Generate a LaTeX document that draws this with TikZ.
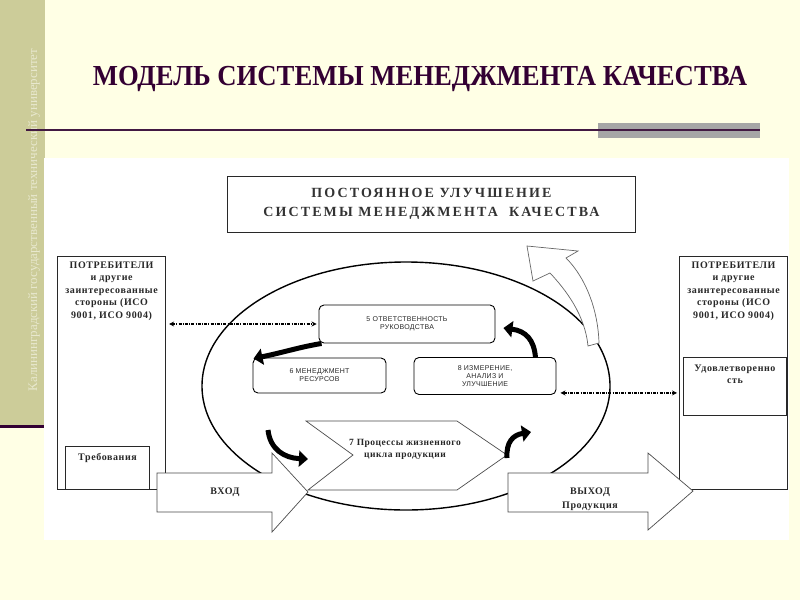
\documentclass[tikz,border=0pt]{standalone}
\usepackage{fontspec}
\setmainfont{Liberation Serif}
\newfontfamily\boxsans{Liberation Sans}
\usetikzlibrary{arrows.meta, positioning}

\definecolor{slidebg}{RGB}{255,255,229}
\definecolor{sidebar}{RGB}{204,204,153}
\definecolor{sidebartext}{RGB}{232,232,206}
\definecolor{plum}{RGB}{51,0,51}
\definecolor{rulegray}{RGB}{166,166,166}
\definecolor{inkgray}{RGB}{40,40,40}

\begin{document}
\begin{tikzpicture}[x=1pt, y=-1pt,
    frame/.style={draw=inkgray, line width=1.1pt, fill=white, inner sep=0pt},
    stage/.style={draw=black, line width=0.9pt, rounded corners=5pt, fill=white, inner sep=0pt},
    stagetext/.style={font=\boxsans\fontsize{7}{8}\selectfont\addfontfeatures{LetterSpace=4}, text=inkgray, align=center},
    boldtext/.style={font=\bfseries\fontsize{10}{12.5}\selectfont\addfontfeatures{LetterSpace=6}, text=inkgray, align=center},
    outline/.style={draw=black!70, line width=0.7pt, fill=white},
    link/.style={{Stealth[length=5pt,width=5pt]}-{Stealth[length=5pt,width=5pt]}, line width=1.3pt, dash pattern=on 3pt off 1.2pt on 1pt off 1.2pt},
    turn/.style={-{Triangle[length=9pt,width=16pt]}, line width=5pt}
]
    \useasboundingbox (0,0) rectangle (800,600);

    % Slide background
    \fill[slidebg] (0,0) rectangle (800,600);
    \fill[sidebar] (0,0) rectangle (45,425);
    \fill[plum] (0,425) rectangle (45,428);
    \node[rotate=90, font=\fontsize{13}{15}\selectfont, text=sidebartext] (univ) at (34,220) {Калининградский государственный технический университет};

    % Title and rule
    \node[font=\bfseries\fontsize{29}{30}\selectfont, text=plum, xscale=0.92] (title) at (420,79) {МОДЕЛЬ СИСТЕМЫ МЕНЕДЖМЕНТА КАЧЕСТВА};
    \fill[rulegray] (598,123) rectangle (760,138);
    \draw[plum!80!gray, line width=1.5pt] (26,130) -- (760,130);
    \fill[white] (44,158) rectangle (789,540);

    % Loop of the management system
    \draw[line width=1.4pt] (406,386) ellipse [x radius=204pt, y radius=124pt];

    % Continual improvement
    \node[frame, line width=0.8pt, minimum width=408, minimum height=56, align=center,
          font=\bfseries\fontsize{14}{19}\selectfont\addfontfeatures{LetterSpace=15}, text=black!80] (improve) at (431.5,204)
          {ПОСТОЯННОЕ УЛУЧШЕНИЕ\\СИСТЕМЫ МЕНЕДЖМЕНТА\ \ КАЧЕСТВА};

    % Customers on both sides
    \node[frame, minimum width=108, minimum height=233, anchor=north west] (custleft) at (57,256) {};
    \node[boldtext, below=2pt of custleft.north] (custlefttext) {ПОТРЕБИТЕЛИ\\и другие\\заинтересованные\\стороны (ИСО\\9001, ИСО 9004)};
    \node[frame, minimum width=84, minimum height=43, anchor=south west] (needs) at (65,490) {};
    \node[boldtext, below=4pt of needs.north] (needstext) {Требования};

    \node[frame, minimum width=108, minimum height=233, anchor=north west] (custright) at (679,256) {};
    \node[boldtext, below=2pt of custright.north] (custrighttext) {ПОТРЕБИТЕЛИ\\и другие\\заинтересованные\\стороны (ИСО\\9001, ИСО 9004)};
    \node[frame, minimum width=103, minimum height=58, anchor=north east] (satisf) at (787,357) {};
    \node[boldtext, below=4pt of satisf.north] (satisftext) {Удовлетворенно\\сть};

    % Processes 5, 6, 8
    \node[stage, stagetext, minimum width=176, minimum height=38] (resp) at (407,324) {5 ОТВЕТСТВЕННОСТЬ\\РУКОВОДСТВА};
    \node[stage, stagetext, minimum width=133, minimum height=35] (res) at (319.5,375.5) {6 МЕНЕДЖМЕНТ\\РЕСУРСОВ};
    \node[stage, stagetext, minimum width=142, minimum height=37] (meas) at (485,376) {8 ИЗМЕРЕНИЕ,\\АНАЛИЗ И\\УЛУЧШЕНИЕ};

    % Information links
    \coordinate (mlink) at ([yshift=2pt]meas.south east);
    \draw[link, shorten <=3pt, shorten >=2pt] (custleft.east |- resp.west) -- (resp.west);
    \draw[link, shorten <=4pt, shorten >=2pt] (mlink) -- (mlink -| custright.west);

    % Process 7
    \coordinate (ptl) at (306,421);
    \coordinate (ptr) at (457,421);
    \coordinate (ptip) at (507,455);
    \coordinate (pbr) at (457,490);
    \coordinate (pbl) at (308,490);
    \coordinate (pnotch) at (353,455);
    \draw[outline] (ptl) -- (ptr) -- (ptip) -- (pbr) -- (pbl) -- (pnotch) -- cycle;
    \node[boldtext, font=\bfseries\fontsize{9.5}{12}\selectfont\addfontfeatures{LetterSpace=5}] (lifecycle) at (405,449) {7 Процессы жизненного\\цикла продукции};

    % Cycle arrows
    \coordinate (cstart) at (268,430);
    \coordinate (cend) at (308,459);
    \coordinate (dend) at (531,432);
    \draw[turn] ([xshift=3pt]resp.south west) .. controls (300,347) and (285,352) .. ([shift={(1,1)}]res.north west);
    \draw[turn] ([shift={(-21,0)}]meas.north east) .. controls (534,340) and (526,331) .. ([shift={(8,4)}]resp.east);
    \draw[turn] (cstart) .. controls (270,449) and (284,458) .. (cend);
    \draw[turn] ([yshift=-3pt]ptip) .. controls (506,442) and (513,435) .. (dend);

    % Input and output
    \draw[outline] (157,473) -- (272,473) -- (272,453) -- (308,492) -- (272,532) -- (272,512) -- (157,512) -- cycle;
    \node[boldtext] (input) at (225,492) {ВХОД};
    \draw[outline] (508,473) -- (648,473) -- (648,453) -- (693,491) -- (648,530) -- (648,512) -- (508,512) -- cycle;
    \node[boldtext, font=\bfseries\fontsize{10}{14}\selectfont\addfontfeatures{LetterSpace=6}] (output) at (590,499) {ВЫХОД\\Продукция};

    % Improvement arrow
    \draw[outline, draw=black!60] (527,246) -- (533,281) -- (550,273)
        .. controls (566,290) and (585,315) .. (588,346) -- (599,343)
        .. controls (598,310) and (586,278) .. (566,258) -- (578,251) -- cycle;
\end{tikzpicture}
\end{document}
